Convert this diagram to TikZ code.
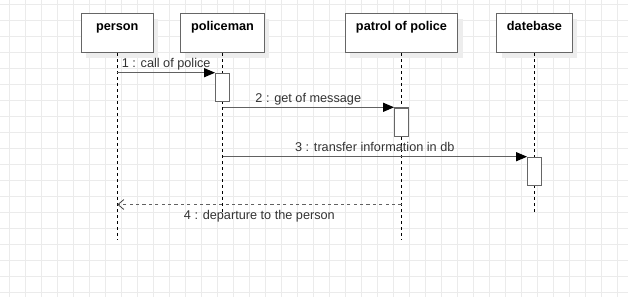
\documentclass[tikz,border=0pt]{standalone}
\usepackage{fontspec}
\setmainfont{Liberation Sans}
\usetikzlibrary{arrows.meta,shadows}

\tikzset{
  gridline/.style={black!8,line width=0.8pt},
  head/.style={draw=black!60,line width=1.3pt,fill=white,anchor=north,
    minimum height=39pt,inner sep=0pt,text height=9pt,text depth=14pt,
    font=\fontsize{12.7}{15}\selectfont\bfseries,
    general shadow={fill=black!7,shadow xshift=5pt,shadow yshift=-5pt}},
  act/.style={draw=black!60,line width=1.2pt,fill=white,anchor=north,
    minimum width=13.6pt,minimum height=28.4pt,inner sep=0pt},
  life/.style={black,line width=0.8pt,dash pattern=on 3pt off 3pt},
  msg/.style={black!62,line width=1.2pt,
    -{Triangle[length=11pt,width=9pt,color=black,fill=black]}},
  reply/.style={black!62,line width=1.2pt,dash pattern=on 3.2pt off 3.2pt,
    -{Straight Barb[length=6pt,width=10pt,line width=0.8pt,color=black!75]}},
  lbl/.style={font=\fontsize{12.7}{15}\selectfont,text=black!80,anchor=base,inner sep=0pt}
}

\begin{document}
\begin{tikzpicture}[x=1pt,y=1pt]
	\useasboundingbox (0,0) rectangle (642,-297);
	% background grid
	\foreach \k in {0,...,38}
		\draw[gridline] (9.3+16*\k,0) -- ++(0,-297);
	\foreach \k in {0,...,18}
		\draw[gridline] (0,-4.7-16*\k) -- ++(628,0);

	% lifeline heads
	\node[head,minimum width=72pt] (person) at (117.3,-13) {person};
	\node[head,minimum width=83.6pt] (policeman) at (222.5,-13) {policeman};
	\node[head,minimum width=112.6pt] (patrol) at (401.5,-13) {patrol of police};
	\node[head,minimum width=75.6pt] (db) at (534.5,-13) {datebase};

	% lifelines
	\coordinate (personend) at (117.3,-240);
	\coordinate (policemanend) at (222.5,-212);
	\coordinate (patrolend) at (401.5,-240);
	\coordinate (dbend) at (534.5,-212);
	\draw[life] (person.south) -- (personend);
	\draw[life] (policeman.south) -- (policemanend);
	\draw[life] (patrol.south) -- (patrolend);
	\draw[life] (db.south) -- (dbend);

	% activations
	\node[act] (act1) at (222.5,-72.7) {};
	\node[act] (act2) at (401.5,-107.3) {};
	\node[act] (act3) at (534.5,-156.7) {};

	% messages
	\draw[msg] (person |- act1.north) -- (act1.north west)
		node[lbl,pos=0.5,yshift=5pt] (m1) {1 : call of police};
	\draw[msg] (policeman |- act2.north) -- (act2.north west)
		node[lbl,pos=0.5,yshift=5pt] (m2) {2 : get of message};
	\draw[msg] (policeman |- act3.north) -- (act3.north west)
		node[lbl,pos=0.5,yshift=5pt] (m3) {3 : transfer information in db};
	\coordinate (back) at (401.5,-204.5);
	\draw[reply] (back) -- (person |- back)
		node[lbl,pos=0.5,yshift=-15pt] (m4) {4 : departure to the person};
\end{tikzpicture}
\end{document}
